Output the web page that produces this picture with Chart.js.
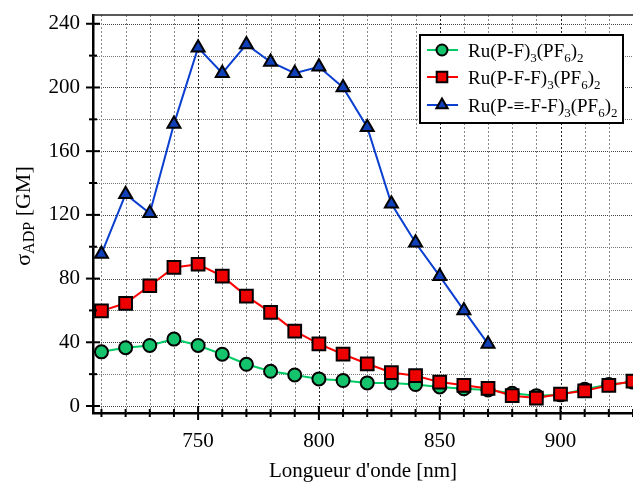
<!DOCTYPE html>
<html>
<head>
<meta charset="utf-8">
<script src="https://cdn.jsdelivr.net/npm/chart.js@4.4.1/dist/chart.umd.min.js"></script>
<style>
html, body { margin: 0; padding: 0; background: #fff; }
#wrap { width: 633px; height: 482px; }
</style>
</head>
<body>
<div id="wrap"><canvas id="tpaChart"></canvas></div>
<script>
// Longueurs d'onde (nm)
const wavelengths = [710, 720, 730, 740, 750, 760, 770, 780, 790, 800, 810, 820,
                     830, 840, 850, 860, 870, 880, 890, 900, 910, 920, 930];
// sigma ADP (GM)
const sigmaPF = [34, 36.6, 38, 42, 38, 32.5, 26.2, 21.8, 19.5, 17, 16, 14.5,
                 14.5, 13.5, 12, 10.8, 10, 8, 6.5, 7, 10.5, 13.5, 15];
const sigmaPFF = [59.7, 64.5, 75.5, 87, 89, 81.5, 69, 58.8, 47, 39, 32.5, 26.5,
                  21, 19, 15, 13, 11, 6.5, 5, 7.5, 9.5, 13, 15.6];
const sigmaPTFF = [95.5, 133, 121, 177, 225, 209, 227, 216, 209, 213, 200, 175,
                   127, 102.5, 81.5, 60, 39]; // 710 -> 870 nm seulement
const seriesLabels = ['Ru(P-F)_3(PF_6)_2', 'Ru(P-F-F)_3(PF_6)_2', 'Ru(P-\u2261-F-F)_3(PF_6)_2'];
const xTickLabels = [750, 800, 850, 900];
const yTickLabels = [0, 40, 80, 120, 160, 200, 240];

const serif = 'Liberation Serif';
const toPoints = (vals) => vals.map((v, i) => ({ x: wavelengths[i], y: v }));

// grille pointillée (sous les courbes)
const dottedGrid = {
    id: 'dottedGrid',
    beforeDatasetsDraw(chart) {
        const ctx = chart.ctx, xs = chart.scales.x, ys = chart.scales.y;
        const area = chart.chartArea;
        ctx.save();
        ctx.lineWidth = 1;
        ctx.setLineDash([1, 1]);
        ys.ticks.forEach(t => {
            const py = Math.round(ys.getPixelForValue(t.value)) + 0.5;
            ctx.strokeStyle = yTickLabels.includes(t.value) ? '#444' : '#777';
            ctx.beginPath(); ctx.moveTo(area.left, py); ctx.lineTo(area.right, py); ctx.stroke();
        });
        ctx.setLineDash([2, 2]);
        xs.ticks.forEach(t => {
            const px = Math.round(xs.getPixelForValue(t.value)) + 0.5;
            ctx.strokeStyle = xTickLabels.includes(t.value) ? '#222' : '#888';
            ctx.beginPath(); ctx.moveTo(px, area.top); ctx.lineTo(px, area.bottom); ctx.stroke();
        });
        ctx.restore();
    }
};

// graduations qui traversent les axes + cadre du haut
const axisTicks = {
    id: 'axisTicks',
    afterDraw(chart) {
        const ctx = chart.ctx, xs = chart.scales.x, ys = chart.scales.y;
        const area = chart.chartArea;
        ctx.save();
        ctx.strokeStyle = '#222';
        ctx.lineWidth = 1.5;
        ctx.beginPath(); ctx.moveTo(area.left, area.top); ctx.lineTo(area.right, area.top); ctx.stroke();
        ctx.strokeStyle = '#000';
        ctx.lineWidth = 2;
        xs.ticks.forEach(t => {
            const px = xs.getPixelForValue(t.value);
            const len = xTickLabels.includes(t.value) ? 7 : 4;
            ctx.beginPath(); ctx.moveTo(px, xs.top - len); ctx.lineTo(px, xs.top + len); ctx.stroke();
        });
        ys.ticks.forEach(t => {
            const py = ys.getPixelForValue(t.value);
            const len = yTickLabels.includes(t.value) ? 7 : 4;
            ctx.beginPath(); ctx.moveTo(ys.right - len, py); ctx.lineTo(ys.right + len, py); ctx.stroke();
        });
        ctx.restore();
    }
};

// texte avec indices
function drawSubText(ctx, str, x, y, size, subSize) {
    const parts = str.split(/_(\d+)/);
    let cx = x;
    parts.forEach((p, i) => {
        const sub = i % 2 === 1;
        ctx.font = (sub ? subSize : size) + 'px "' + serif + '"';
        ctx.fillText(p, cx, sub ? y + size * 0.25 : y);
        cx += ctx.measureText(p).width;
    });
    return cx - x;
}

const yTitle = {
    id: 'yTitle',
    afterDraw(chart) {
        const ctx = chart.ctx;
        const big = '22px "' + serif + '"', small = '16px "' + serif + '"';
        ctx.save();
        ctx.font = big;
        const w1 = ctx.measureText('\u03c3').width, w3 = ctx.measureText(' [GM]').width;
        ctx.font = small;
        const w2 = ctx.measureText('ADP').width;
        ctx.translate(24, 216);
        ctx.rotate(-Math.PI / 2);
        ctx.fillStyle = '#000';
        ctx.textBaseline = 'middle';
        ctx.textAlign = 'left';
        let cx = -(w1 + w2 + w3) / 2;
        ctx.font = big;
        ctx.fillText('\u03c3', cx, 0);
        cx += w1;
        ctx.font = small;
        ctx.fillText('ADP', cx, 6);
        cx += w2;
        ctx.font = big;
        ctx.fillText(' [GM]', cx, 0);
        ctx.restore();
    }
};

const boxLegend = {
    id: 'boxLegend',
    afterDraw(chart) {
        const ctx = chart.ctx;
        ctx.save();
        ctx.fillStyle = '#fff';
        ctx.fillRect(420, 35, 203, 88);
        ctx.strokeStyle = '#000';
        ctx.lineWidth = 2;
        ctx.strokeRect(420, 35, 203, 88);
        const rows = [50, 77, 105];
        chart.data.datasets.forEach((ds, i) => {
            const ry = rows[i];
            ctx.strokeStyle = ds.borderColor;
            ctx.lineWidth = 2;
            ctx.beginPath(); ctx.moveTo(427, ry); ctx.lineTo(458, ry); ctx.stroke();
            ctx.fillStyle = ds.pointBackgroundColor;
            ctx.strokeStyle = '#000';
            ctx.lineWidth = 2;
            Chart.helpers.drawPoint(ctx, {
                pointStyle: ds.pointStyle, radius: ds.legendRadius, borderWidth: 2, rotation: 0
            }, 442, ry);
            ctx.fillStyle = '#000';
            ctx.textBaseline = 'alphabetic';
            ctx.textAlign = 'left';
            drawSubText(ctx, seriesLabels[i], 468, ry + 7, 19, 13);
        });
        ctx.restore();
    }
};

new Chart(document.getElementById('tpaChart'), {
    type: 'line',
    data: {
        datasets: [{
            label: seriesLabels[0],
            data: toPoints(sigmaPF),
            borderColor: '#00cc66',
            pointBackgroundColor: '#14c46c',
            pointStyle: 'circle',
            pointRadius: 6.5,
            legendRadius: 5.5,
            order: 2
        }, {
            label: seriesLabels[1],
            data: toPoints(sigmaPFF),
            borderColor: '#ff0000',
            pointBackgroundColor: '#ee0000',
            pointStyle: 'rect',
            pointRadius: 9,
            legendRadius: 7.5,
            order: 1
        }, {
            label: seriesLabels[2],
            data: toPoints(sigmaPTFF),
            borderColor: '#0a3fd0',
            pointBackgroundColor: '#1040b8',
            pointStyle: 'triangle',
            pointRadius: 7.5,
            legendRadius: 6.5,
            order: 0
        }].map(ds => Object.assign({
            borderWidth: 2,
            pointBorderColor: '#000',
            pointBorderWidth: 2,
            pointHoverRadius: ds.pointRadius,
            tension: 0,
            fill: false
        }, ds))
    },
    options: {
        responsive: true,
        maintainAspectRatio: false,
        animation: false,
        layout: { autoPadding: false, padding: { top: 15, right: 0, left: 0, bottom: 0 } },
        plugins: { legend: { display: false }, tooltip: { enabled: false } },
        scales: {
            x: {
                type: 'linear',
                min: 706.5,
                max: 930,
                afterFit: (scale) => { scale.height = 69; },
                ticks: {
                    stepSize: 10,
                    includeBounds: false,
                    autoSkip: false,
                    maxRotation: 0,
                    padding: 0,
                    color: '#000',
                    font: { family: serif, size: 21 },
                    callback: (v) => xTickLabels.includes(v) ? String(v) : ''
                },
                grid: {
                    drawOnChartArea: false,
                    drawTicks: true,
                    tickLength: 16,
                    tickColor: 'rgba(0,0,0,0)'
                },
                border: { color: '#000', width: 2.5 },
                title: {
                    display: true,
                    text: "Longueur d'onde [nm]",
                    color: '#000',
                    font: { family: serif, size: 21, lineHeight: 1 },
                    padding: 0
                }
            },
            y: {
                min: -4.4,
                max: 245.5,
                afterFit: (scale) => { scale.width = 93; },
                ticks: {
                    stepSize: 20,
                    includeBounds: false,
                    autoSkip: false,
                    padding: 0,
                    color: '#000',
                    font: { family: serif, size: 21 },
                    callback: (v) => yTickLabels.includes(v) ? String(v) : ''
                },
                grid: {
                    drawOnChartArea: false,
                    drawTicks: true,
                    tickLength: 13,
                    tickColor: 'rgba(0,0,0,0)'
                },
                border: { color: '#000', width: 2.5 }
            }
        }
    },
    plugins: [dottedGrid, axisTicks, yTitle, boxLegend]
});
</script>
</body>
</html>
